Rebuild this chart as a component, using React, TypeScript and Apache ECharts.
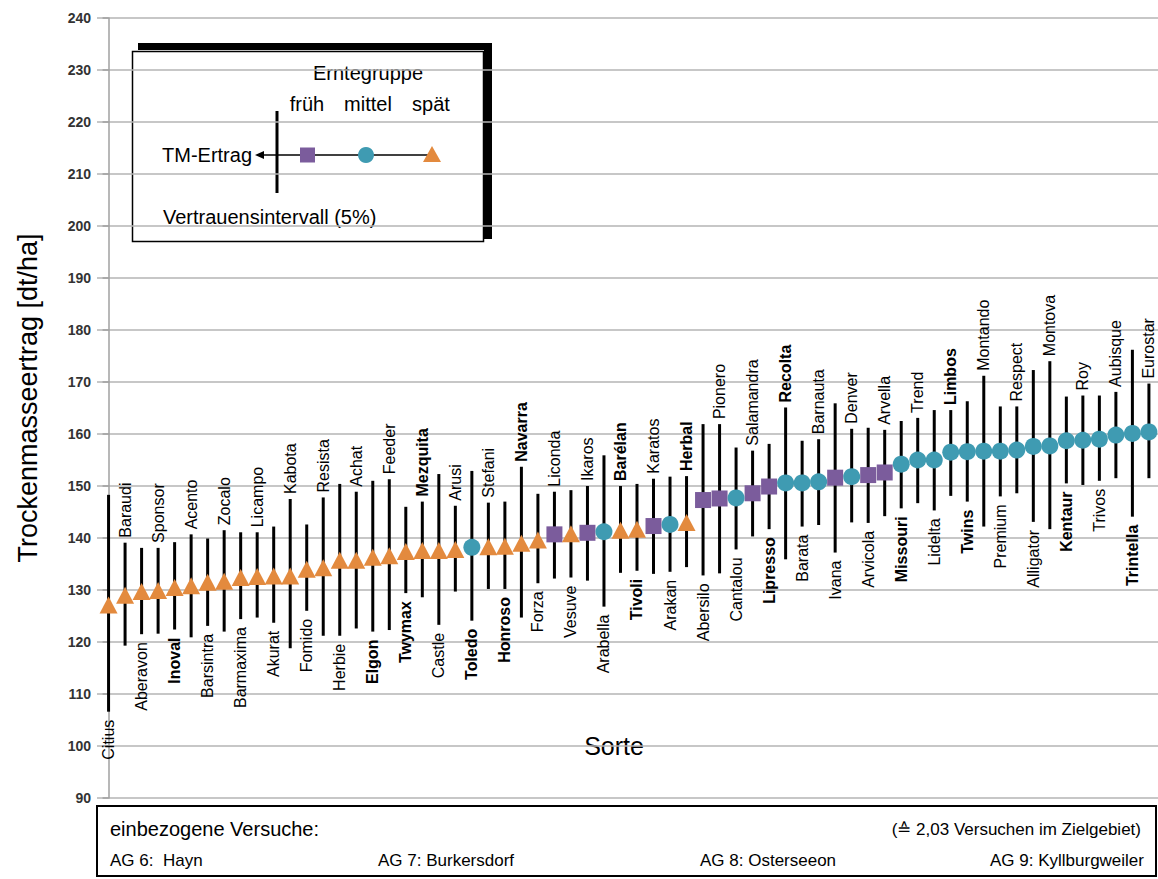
import React, { useEffect, useRef } from "react";
import * as echarts from "echarts";

const names = [
  "Citius", "Baraudi", "Aberavon", "Sponsor", "Inoval", "Acento", "Barsintra", "Zocalo",
  "Barmaxima", "Licampo", "Akurat", "Kabota", "Fomido", "Resista", "Herbie", "Achat",
  "Elgon", "Feeder", "Twymax", "Mezquita", "Castle", "Arusi", "Toledo", "Stefani",
  "Honroso", "Navarra", "Forza", "Liconda", "Vesuve", "Ikaros", "Arabella", "Barélan",
  "Tivoli", "Karatos", "Arakan", "Herbal", "Abersilo", "Pionero", "Cantalou", "Salamandra",
  "Lipresso", "Recolta", "Barata", "Barnauta", "Ivana", "Denver", "Arvicola", "Arvella",
  "Missouri", "Trend", "Lidelta", "Limbos", "Twins", "Montando", "Premium", "Respect",
  "Alligator", "Montova", "Kentaur", "Roy", "Trivos", "Aubisque", "Trintella", "Eurostar",
];

const means = [
  127.1, 129.0, 129.7, 129.9, 130.5, 130.8, 131.5, 131.7,
  132.4, 132.6, 132.7, 132.7, 134.0, 134.3, 135.7, 135.7,
  136.3, 136.6, 137.4, 137.6, 137.6, 137.8, 138.2, 138.3,
  138.4, 139.0, 139.6, 140.7, 140.8, 141.0, 141.2, 141.5,
  141.7, 142.3, 142.6, 143.0, 147.3, 147.6, 147.7, 148.6,
  149.9, 150.6, 150.6, 150.8, 151.6, 151.8, 152.1, 152.6,
  154.2, 155.0, 155.0, 156.5, 156.6, 156.7, 156.7, 156.9,
  157.6, 157.7, 158.7, 158.8, 159.0, 159.8, 160.1, 160.4,
];

const lows = [
  106.6, 119.3, 121.5, 121.6, 122.4, 120.9, 123.1, 122.0,
  124.4, 124.7, 123.7, 118.8, 126.0, 121.2, 121.2, 122.6,
  122.0, 122.3, 129.4, 128.6, 123.3, 129.7, 124.1, 130.2,
  130.2, 124.7, 131.3, 132.2, 132.4, 131.8, 126.8, 133.3,
  133.7, 133.1, 133.5, 134.4, 132.8, 133.2, 137.8, 140.3,
  141.7, 135.9, 142.2, 142.5, 137.2, 143.0, 142.9, 144.2,
  145.7, 146.7, 145.3, 148.1, 147.0, 142.2, 148.0, 148.6,
  143.1, 141.7, 150.5, 150.2, 151.0, 151.5, 144.1, 151.5,
];

const highs = [
  148.3, 139.1, 138.1, 138.1, 139.2, 140.7, 139.9, 141.5,
  141.1, 141.1, 142.2, 147.5, 142.6, 147.8, 150.4, 148.9,
  151.0, 151.3, 146.0, 147.0, 152.3, 146.2, 152.9, 146.8,
  147.0, 153.7, 148.5, 148.9, 149.2, 150.0, 155.9, 150.0,
  150.4, 151.4, 151.8, 151.9, 161.9, 161.9, 157.4, 156.8,
  158.1, 165.1, 158.7, 159.0, 165.9, 161.0, 161.2, 160.8,
  162.5, 163.1, 164.6, 164.6, 166.3, 171.2, 165.3, 165.3,
  172.3, 174.0, 167.2, 167.4, 167.4, 168.1, 176.2, 169.7,
];

// f = früh, m = mittel, s = spät
const groups = [
  "s", "s", "s", "s", "s", "s", "s", "s",
  "s", "s", "s", "s", "s", "s", "s", "s",
  "s", "s", "s", "s", "s", "s", "m", "s",
  "s", "s", "s", "f", "s", "f", "m", "s",
  "s", "f", "m", "s", "f", "f", "m", "f",
  "f", "m", "m", "m", "f", "m", "f", "f",
  "m", "m", "m", "m", "m", "m", "m", "m",
  "m", "m", "m", "m", "m", "m", "m", "m",
];

const boldNames = [
  "Inoval", "Elgon", "Twymax", "Mezquita", "Toledo", "Honroso", "Navarra", "Barélan",
  "Tivoli", "Herbal", "Lipresso", "Recolta", "Missouri", "Twins", "Limbos", "Kentaur", "Trintella",
];

const yTicks = { min: 90, max: 240, interval: 10 };

const legendGroups = ["früh", "mittel", "spät"];
const footerTitle = "einbezogene Versuche:";
const footerNote = "(\u2259 2,03 Versuchen im Zielgebiet)";
const footerSites = ["AG 6:  Hayn", "AG 7: Burkersdorf", "AG 8: Osterseeon", "AG 9: Kyllburgweiler"];

const FONT = "'Liberation Sans', Arial, Helvetica, sans-serif";
const C_SPAET = "#E38A3E";
const C_MITTEL = "#3F9BB2";
const C_FRUEH = "#7B5C9C";

function buildOption() {
  const errData = names.map((_, i) => [i, lows[i], highs[i]]);
  const pick = (g: string) =>
    names.map((_, i) => (groups[i] === g ? [i, means[i]] : null)).filter((d) => d !== null);

  const txt = (text: string, x: number, y: number, size: number, align = "left", extra: any = {}) => ({
    type: "text",
    x,
    y,
    silent: true,
    ...extra,
    style: {
      text,
      x: 0,
      y: 0,
      fontSize: size,
      fontFamily: FONT,
      fill: "#000",
      textAlign: align,
      align,
      textVerticalAlign: "middle",
      verticalAlign: "middle",
    },
  });

  const graphics: any[] = [
    // y axis title
    txt("Trockenmasseertrag [dt/ha]", 28, 398, 27, "center", { rotation: Math.PI / 2 }),
    // x axis title
    txt("Sorte", 614, 746, 25, "center"),
    // legend box shadow
    { type: "rect", shape: { x: 138, y: 43, width: 354, height: 7 }, style: { fill: "#000" } },
    { type: "rect", shape: { x: 484, y: 43, width: 8, height: 196 }, style: { fill: "#000" } },
    // legend box
    {
      type: "rect",
      shape: { x: 132.5, y: 51.5, width: 351, height: 190 },
      style: { fill: "none", stroke: "#000", lineWidth: 1.5 },
    },
    txt("Erntegruppe", 368, 73, 20, "center"),
    txt(legendGroups[0], 307, 104, 20, "center"),
    txt(legendGroups[1], 368, 104, 20, "center"),
    txt(legendGroups[2], 431, 104, 20, "center"),
    txt("TM-Ertrag", 252, 155, 20, "right"),
    txt("Vertrauensintervall (5%)", 163, 217, 20, "left"),
    { type: "line", shape: { x1: 262, y1: 155, x2: 428, y2: 155 }, style: { stroke: "#000", lineWidth: 1.5 } },
    { type: "polygon", shape: { points: [[255, 155], [264, 151], [264, 159]] }, style: { fill: "#000" } },
    { type: "line", shape: { x1: 277, y1: 111, x2: 277, y2: 193 }, style: { stroke: "#000", lineWidth: 3 } },
    { type: "rect", shape: { x: 300, y: 147.5, width: 15, height: 15 }, style: { fill: C_FRUEH } },
    { type: "circle", shape: { cx: 366, cy: 155, r: 8 }, style: { fill: C_MITTEL } },
    { type: "polygon", shape: { points: [[432, 146], [441, 162], [423, 162]] }, style: { fill: C_SPAET } },
    // footer box
    {
      type: "rect",
      shape: { x: 97, y: 806, width: 1059, height: 70 },
      style: { fill: "none", stroke: "#000", lineWidth: 2 },
    },
    txt(footerTitle, 110, 829, 20, "left"),
    txt(footerNote, 1141, 829, 17, "right"),
    txt(footerSites[0], 110, 860, 17, "left"),
    txt(footerSites[1], 378, 860, 17, "left"),
    txt(footerSites[2], 700, 860, 17, "left"),
    txt(footerSites[3], 1144, 860, 17, "right"),
  ];

  return {
    animation: false,
    backgroundColor: "#fff",
    grid: { left: 97, right: 0, top: 18, bottom: 81, containLabel: false },
    xAxis: {
      type: "value",
      min: -0.7,
      max: 63.55,
      show: false,
    },
    yAxis: {
      type: "value",
      min: yTicks.min,
      max: yTicks.max,
      interval: yTicks.interval,
      axisLine: { show: true, lineStyle: { color: "#A0A0A0", width: 1.5 } },
      axisTick: { show: true, length: 6, lineStyle: { color: "#A0A0A0", width: 1.5 } },
      axisLabel: {
        color: "#333",
        fontSize: 14,
        fontWeight: "bold",
        fontFamily: FONT,
        margin: 6,
      },
      splitLine: { show: true, lineStyle: { color: "#B4B4B4", width: 1.5 } },
    },
    series: [
      {
        type: "custom",
        name: "Vertrauensintervall",
        data: errData,
        z: 2,
        clip: false,
        renderItem: (params: any, api: any) => {
          const i = api.value(0);
          const lo = api.coord([i, api.value(1)]);
          const hi = api.coord([i, api.value(2)]);
          const top = i % 2 === 1;
          const bold = boldNames.indexOf(names[i]) >= 0;
          return {
            type: "group",
            children: [
              {
                type: "line",
                shape: { x1: hi[0], y1: hi[1], x2: lo[0], y2: lo[1] },
                style: { stroke: "#000", lineWidth: 3 },
              },
              {
                type: "text",
                x: hi[0],
                y: top ? hi[1] - 5 : lo[1] + 8,
                rotation: Math.PI / 2,
                style: {
                  text: names[i],
                  x: 0,
                  y: 0,
                  fontSize: 16,
                  fontFamily: FONT,
                  fontWeight: bold ? "bold" : "normal",
                  fill: "#000",
                  align: top ? "left" : "right",
                  verticalAlign: "middle",
                },
              },
            ],
          };
        },
      },
      {
        type: "scatter",
        name: "früh",
        data: pick("f"),
        symbol: "rect",
        symbolSize: 16,
        itemStyle: { color: C_FRUEH, opacity: 1 },
        z: 5,
        clip: false,
      },
      {
        type: "scatter",
        name: "mittel",
        data: pick("m"),
        symbol: "circle",
        symbolSize: 17,
        itemStyle: { color: C_MITTEL, opacity: 1 },
        z: 5,
        clip: false,
      },
      {
        type: "scatter",
        name: "spät",
        data: pick("s"),
        symbol: "triangle",
        symbolSize: [18, 17],
        itemStyle: { color: C_SPAET, opacity: 1 },
        z: 5,
        clip: false,
      },
    ],
    graphic: graphics,
  };
}

export default function App() {
  const ref = useRef<HTMLDivElement>(null);
  useEffect(() => {
    document.body.style.margin = "0";
    const chart = echarts.init(ref.current as HTMLDivElement, null, { renderer: "svg" });
    chart.setOption(buildOption() as any);
    return () => {
      chart.dispose();
    };
  }, []);
  return <div ref={ref} style={{ width: 1158, height: 879 }} />;
}
